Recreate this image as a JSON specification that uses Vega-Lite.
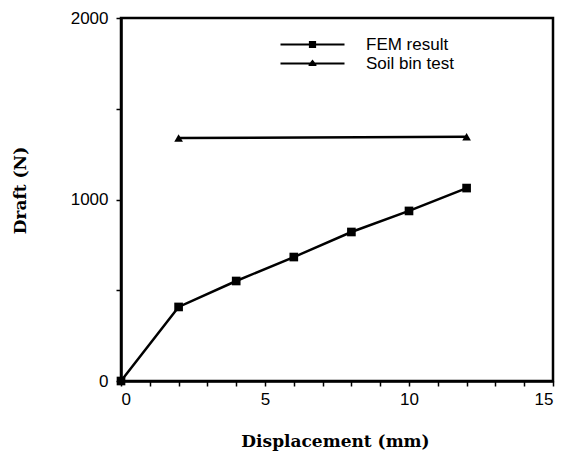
{
  "$schema": "https://vega.github.io/schema/vega-lite/v6.json",
  "width": 432,
  "height": 363,
  "autosize": {"type": "none"},
  "padding": {"left": 121, "top": 18, "right": 17, "bottom": 71},
  "background": "white",
  "config": {
    "view": {"stroke": "black", "strokeWidth": 2.5},
    "font": "Liberation Sans",
    "axis": {
      "grid": false,
      "domainColor": "black",
      "domainWidth": 2.5,
      "tickColor": "black",
      "tickWidth": 1.5,
      "tickSize": 5,
      "labelColor": "black",
      "labelFont": "Liberation Sans",
      "labelFontSize": 17,
      "titleColor": "black",
      "titleFont": "DejaVu Serif",
      "titleFontWeight": "bold",
      "titleFontSize": 17
    }
  },
  "data": {
    "values": [
      {"series": "FEM result", "x": 0, "y": 0},
      {"series": "FEM result", "x": 2, "y": 408},
      {"series": "FEM result", "x": 4, "y": 551},
      {"series": "FEM result", "x": 6, "y": 683},
      {"series": "FEM result", "x": 8, "y": 821},
      {"series": "FEM result", "x": 10, "y": 937},
      {"series": "FEM result", "x": 12, "y": 1063},
      {"series": "Soil bin test", "x": 2, "y": 1339},
      {"series": "Soil bin test", "x": 12, "y": 1346}
    ]
  },
  "encoding": {
    "x": {
      "field": "x",
      "type": "quantitative",
      "scale": {"domain": [0, 15], "nice": false, "zero": false},
      "axis": {
        "title": "Displacement  (mm)",
        "values": [0,1,2,3,4,5,6,7,8,9,10,11,12,13,14,15],
        "labelExpr": "datum.value % 5 == 0 ? datum.label : ''",
        "labelPadding": 5,
        "titleX": 214,
        "titleY": 60,
        "titleBaseline": "middle",
        "titleAlign": "center"
      }
    },
    "y": {
      "field": "y",
      "type": "quantitative",
      "scale": {"domain": [0, 2000], "nice": false},
      "axis": {
        "title": "Draft  (N)",
        "values": [0, 500, 1000, 1500, 2000],
        "labelExpr": "datum.value % 1000 == 0 ? datum.label : ''",
        "labelPadding": 8,
        "format": "d",
        "titleX": -101,
        "titleY": 172,
        "titleAngle": -90,
        "titleBaseline": "middle",
        "titleAlign": "center"
      }
    }
  },
  "layer": [
    {
      "mark": {"type": "line", "color": "black", "strokeWidth": 2.5},
      "encoding": {"detail": {"field": "series"}}
    },
    {
      "transform": [{"filter": "datum.series === 'FEM result'"}],
      "mark": {"type": "point", "filled": true, "color": "black", "opacity": 1, "size": 75, "shape": "square"}
    },
    {
      "transform": [{"filter": "datum.series === 'Soil bin test'"}],
      "mark": {"type": "point", "filled": true, "color": "black", "opacity": 1, "size": 75, "shape": "triangle-up"}
    },
    {
      "mark": {"type": "point", "filled": true, "color": "black", "opacity": 0},
      "encoding": {
        "shape": {
          "field": "series",
          "type": "nominal",
          "scale": {
            "domain": ["FEM result", "Soil bin test"],
            "range": [
              "M-8,-0.28H-0.9V-0.9H0.9V-0.28H8V0.28H0.9V0.9H-0.9V0.28H-8Z",
              "M-8,-0.28H-0.6L0,-1L0.6,-0.28H8V0.28H0.95L1,0.6H-1L-0.95,0.28H-8Z"
            ]
          },
          "legend": {
            "title": null,
            "orient": "none",
            "legendX": 183,
            "legendY": 18,
            "padding": 0,
            "symbolSize": 64,
            "symbolOpacity": 1,
            "symbolFillColor": "black",
            "symbolStrokeWidth": 0,
            "labelOffset": 45,
            "labelFontSize": 17,
            "labelFont": "Liberation Sans",
            "labelColor": "black",
            "rowPadding": 1
          }
        }
      }
    }
  ]
}
